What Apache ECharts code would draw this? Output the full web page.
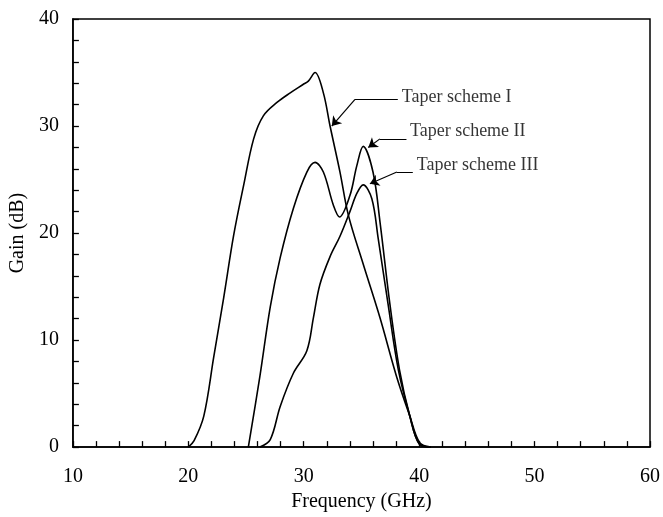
<!DOCTYPE html>
<html>
<head>
<meta charset="utf-8">
<script src="https://cdn.jsdelivr.net/npm/echarts@6/dist/echarts.min.js"></script>
<style>
  html, body { margin: 0; padding: 0; background: #fff; }
  #mychart { width: 663px; height: 517px; }
</style>
</head>
<body>
<div id="mychart"></div>
<script>
// curves, [GHz, dB]
var schemeI = [[20,0],[20.5,0.6],[21.34,2.9],[22.2,8.4],[23.07,14.0],[23.93,19.8],[24.8,24.5],[25.66,28.8],[26.5,30.95],[27.68,32.2],[28.83,33.1],[29.97,33.9],[30.4,34.2],[30.98,35.0],[31.7,33.1],[32.28,30.0],[33.14,25.7],[33.86,21.7],[35.15,17.1],[36.6,12.1],[38.04,6.6],[39.19,2.9],[40.05,0.4],[41,0]];
var schemeII = [[25.2,0],[26.2,6.6],[27.1,13.1],[27.96,17.7],[29.1,22.3],[30.27,25.7],[30.98,26.6],[31.7,25.7],[32.57,22.6],[33.1,21.5],[34.0,23.5],[34.6,26.3],[35.15,28.1],[36.0,25.7],[36.6,21.1],[37.46,13.4],[38.3,7.2],[39.19,2.9],[40.0,0.3],[41,0]];
var schemeIII = [[26.2,0],[27.1,0.7],[27.96,3.8],[29.1,6.9],[30.27,9.0],[30.84,12.1],[31.4,15.2],[32.28,17.8],[33.14,19.7],[34.0,22.0],[34.6,23.7],[35.15,24.5],[35.9,23.2],[36.45,19.5],[37.3,13.4],[38.2,7.2],[39.19,2.9],[40.0,0.3],[41,0]];

var seriesNames = ['Taper scheme I', 'Taper scheme II', 'Taper scheme III'];
// where each label sits, and its leader line (knee right, knee left, arrow tip)
var labelAt = [[38.5,32.7],[39.2,29.5],[39.8,26.3]];
var leaderRight = [[38.15,32.5],[38.9,28.8],[39.45,25.7]];
var leaderLeft = [[34.44,32.5],[36.6,28.8],[38.07,25.7]];
var arrowTip = [[32.43,30.0],[35.59,28.0],[35.73,24.6]];

var serif = 'Liberation Serif';
var mychart = echarts.init(document.getElementById('mychart'));

function curve(name, data) {
  return {
    name: name,
    type: 'line',
    data: data,
    smooth: 0.35,
    symbol: 'none',
    lineStyle: { color: '#000', width: 1.6 },
    z: 3
  };
}

mychart.setOption({
  animation: false,
  backgroundColor: '#fff',
  grid: {
    left: 72, right: 12, top: 19, bottom: 66,
    show: true,
    borderColor: '#000',
    borderWidth: 1.5,
    backgroundColor: 'transparent'
  },
  xAxis: {
    type: 'value',
    min: 10, max: 60, interval: 2,
    name: 'Frequency (GHz)',
    nameLocation: 'middle',
    nameGap: 43,
    nameTextStyle: { fontFamily: serif, fontSize: 20, color: '#000' },
    axisLine: { show: true, lineStyle: { color: '#000', width: 1.5 } },
    axisTick: { show: true, inside: true, length: 6, lineStyle: { color: '#000', width: 1.3 } },
    splitLine: { show: false },
    axisLabel: {
      margin: 20,
      fontFamily: serif, fontSize: 20, color: '#000',
      formatter: function (v) { return v % 10 === 0 ? String(v) : ''; }
    }
  },
  yAxis: {
    type: 'value',
    min: 0, max: 40, interval: 2,
    name: 'Gain (dB)',
    nameLocation: 'middle',
    nameGap: 42,
    nameTextStyle: { fontFamily: serif, fontSize: 20, color: '#000' },
    axisLine: { show: true, lineStyle: { color: '#000', width: 1.5 } },
    axisTick: { show: true, inside: true, length: 6, lineStyle: { color: '#000', width: 1.3 } },
    splitLine: { show: false },
    axisLabel: {
      margin: 14,
      fontFamily: serif, fontSize: 20, color: '#000',
      formatter: function (v) { return v % 10 === 0 ? String(v) : ''; }
    }
  },
  series: [
    curve(seriesNames[0], schemeI),
    curve(seriesNames[1], schemeII),
    curve(seriesNames[2], schemeIII),
    {
      type: 'lines',
      coordinateSystem: 'cartesian2d',
      symbol: 'none',
      lineStyle: { color: '#000', width: 1.2, opacity: 1 },
      data: leaderRight.map(function (p, i) { return { coords: [p, leaderLeft[i]] }; }),
      z: 4
    },
    {
      type: 'lines',
      coordinateSystem: 'cartesian2d',
      symbol: ['none', 'arrow'],
      symbolSize: [0, 9],
      lineStyle: { color: '#000', width: 1.2, opacity: 1 },
      data: leaderLeft.map(function (p, i) { return { coords: [p, arrowTip[i]] }; }),
      z: 4
    },
    {
      type: 'scatter',
      symbolSize: 0,
      data: labelAt.map(function (p, i) { return { value: p, name: seriesNames[i] }; }),
      label: {
        show: true,
        position: 'right',
        distance: 0,
        formatter: '{b}',
        fontFamily: serif, fontSize: 18, color: '#000'
      },
      z: 5
    }
  ]
});
</script>
</body>
</html>
